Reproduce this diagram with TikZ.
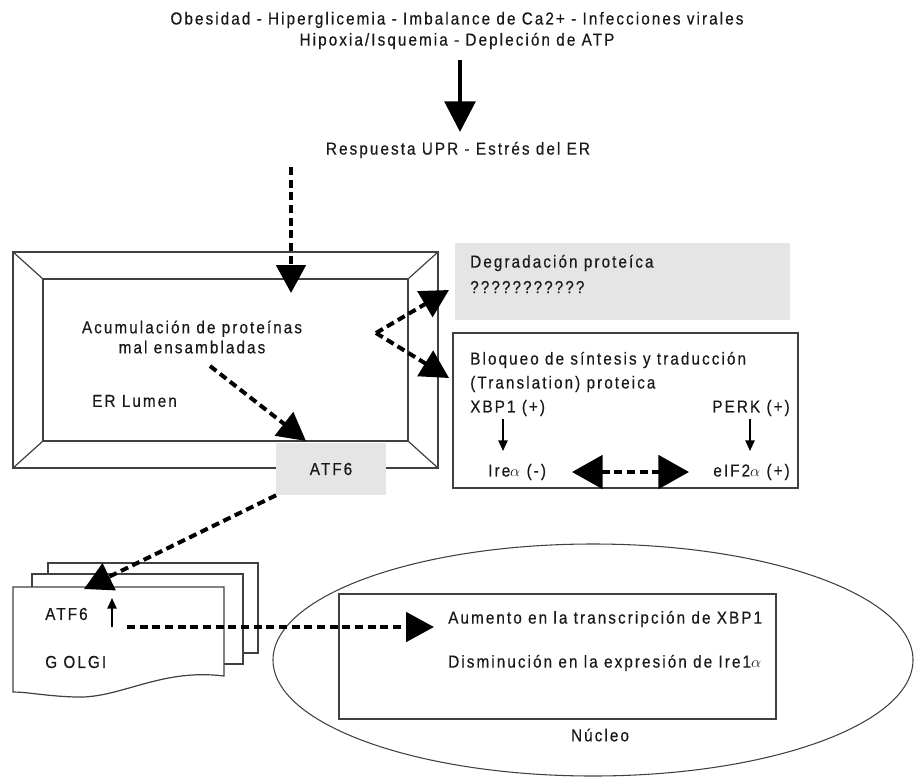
\documentclass[tikz,border=0pt]{standalone}
\usepackage{fontspec}
\setmainfont[LetterSpace=12,FakeStretch=0.88,FakeBold=0.4]{Liberation Sans}
\usetikzlibrary{arrows.meta}
\begin{document}
\begin{tikzpicture}[x=0.75pt,y=-0.75pt,
  txt/.style={inner sep=0pt,font=\fontsize{13}{15}\selectfont,text=black!90},
  frame/.style={draw=black!75,line width=0.9pt},
  bigsolid/.style={line width=3pt,-{Triangle[width=23pt,length=23pt]}},
  bigdash/.style={line width=3pt,dash pattern=on 6pt off 3.5pt,-{Triangle[width=22pt,length=21pt]}},
  bigdashboth/.style={line width=3pt,dash pattern=on 6pt off 3.5pt,{Triangle[width=25pt,length=23pt]}-{Triangle[width=25pt,length=23pt]}},
  thinarrow/.style={line width=1.2pt,-{Triangle[width=7pt,length=8pt]}},
  graybox/.style={fill=black!10,draw=none}]
\useasboundingbox (0,0) rectangle (917,778);

% top texts
\node[txt] (top1) at (457,20) {Obesidad - Hiperglicemia - Imbalance de Ca2+ - Infecciones virales};
\node[txt] (top2) at (457,41) {Hipoxia/Isquemia - Depleción de ATP};
\node[txt] (upr) at (458,150) {Respuesta UPR - Estrés del ER};
\coordinate (s1) at (460,60);
\coordinate (e1) at (460,132);
\draw[bigsolid] (s1) -- (e1);

% ER frame
\draw[frame] (13,252) rectangle (438,468);
\draw[frame] (43,279) rectangle (408,441);
\draw[frame] (13,252) -- (43,279) (438,252) -- (408,279) (13,468) -- (43,441) (438,468) -- (408,441);
\node[txt,align=center] (acum) at (192,337) {Acumulación de proteínas\\mal ensambladas};
\node[txt,anchor=west] (lumen) at (92,401) {ER Lumen};
\coordinate (uprStart) at (291,167);
\coordinate (uprEnd) at (291,293);
\draw[bigdash] (uprStart) -- (uprEnd);
\coordinate (acStart) at (210,366);
\coordinate (acEnd) at (306,441);
\draw[bigdash] (acStart) -- (acEnd);

% ATF6 box on frame
\node[graybox,minimum width=82,minimum height=39,inner sep=0pt] (atfbox) at (331,469) {};
\node[txt] (atf) at (atfbox) {ATF6};

% degradation box
\path[graybox] (455,243) rectangle (790,320);
\node[txt,anchor=west] (deg1) at (470,263) {Degradación proteíca};
\node[txt,anchor=west] (deg2) at (470,287) {???????????};

% bloqueo box
\draw[frame] (453,333) rectangle (798,488);
\node[txt,anchor=west] (blq1) at (470,360) {Bloqueo de síntesis y traducción};
\node[txt,anchor=west] (blq2) at (470,384) {(Translation) proteica};
\node[txt,anchor=west] (xbp) at (470,408) {XBP1 (+)};
\node[txt,anchor=east] (perk) at (790,408) {PERK (+)};
\node[txt,anchor=west] (ire) at (488,472) {Ire$\alpha$ (-)};
\node[txt,anchor=east] (eif) at (790,472) {eIF2$\alpha$ (+)};
\coordinate (xbpA) at (503,419);
\coordinate (xbpB) at (503,451);
\coordinate (perkA) at (750,419);
\coordinate (perkB) at (750,451);
\draw[thinarrow] (xbpA) -- (xbpB);
\draw[thinarrow] (perkA) -- (perkB);
\coordinate (dblL) at (572,472);
\coordinate (dblR) at (689,472);
\draw[bigdashboth] (dblL) -- (dblR);

% fork arrows
\coordinate (fork) at (376,333);
\coordinate (forkA) at (449,290);
\coordinate (forkB) at (449,378);
\draw[bigdash] (fork) -- (forkA);
\draw[bigdash] (fork) -- (forkB);

% Golgi
\draw[frame,fill=white] (48,574) -- (48,563) -- (258,563) -- (258,653) -- (243,653);
\draw[frame,fill=white] (32,587) -- (32,574) -- (243,574) -- (243,664) -- (224,664);
\draw[frame,fill=white] (13,587) -- (224,587) -- (224,676)
   .. controls (160,668) and (120,699) .. (75,697)
   .. controls (45,696) and (28,692) .. (13,692) -- cycle;
\node[txt,anchor=west] (gatf) at (45,614) {ATF6};
\node[txt,anchor=west] (golgi) at (45,662) {G OLGI};
\coordinate (gupA) at (112,627);
\coordinate (gupB) at (112,598);
\draw[thinarrow] (gupA) -- (gupB);
\coordinate (golgiTip) at (84,589);
\draw[bigdash] (atfbox.south west) -- (golgiTip);

% nucleus
\draw[black!75,line width=0.8pt] (593,660) ellipse [x radius=320, y radius=116];
\draw[frame] (339,594) rectangle (776,719);
\node[txt,anchor=west] (aum) at (448,619) {Aumento en la transcripción de XBP1};
\node[txt,anchor=west] (dis) at (448,663) {Disminución en la expresión de Ire1$\alpha$};
\node[txt] (nuc) at (600,735) {Núcleo};
\coordinate (gStart) at (127,627);
\coordinate (gEnd) at (434,627);
\draw[bigdash] (gStart) -- (gEnd);
\end{tikzpicture}
\end{document}
